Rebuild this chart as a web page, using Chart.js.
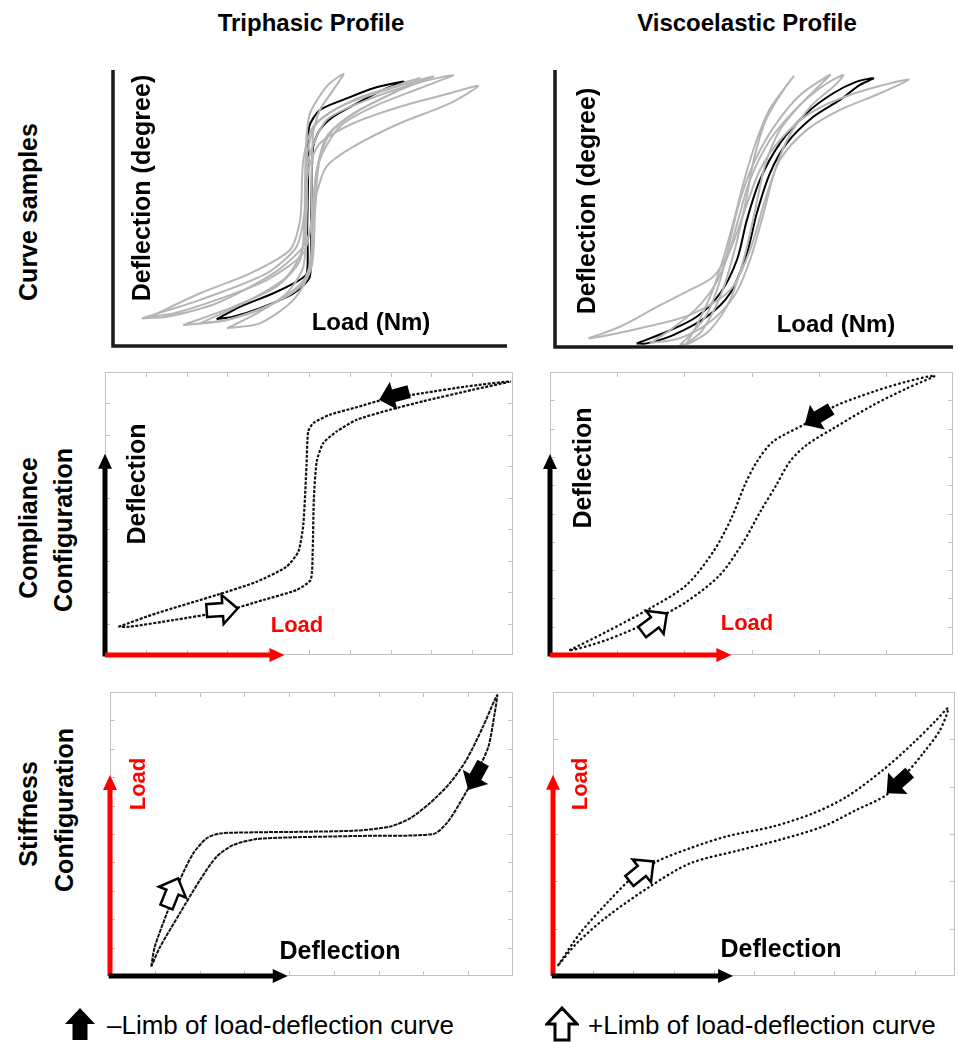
<!DOCTYPE html>
<html>
<head>
<meta charset="utf-8">
<script src="https://cdn.jsdelivr.net/npm/chart.js@4.4.1/dist/chart.umd.min.js"></script>
<style>
  html, body { margin: 0; padding: 0; background: #fff; }
  body { width: 958px; height: 1042px; position: relative; overflow: hidden;
         font-family: "Liberation Sans", Arial, sans-serif; color: #000; }
  .panel { position: absolute; }
  .lbl { position: absolute; white-space: nowrap; font-weight: bold; line-height: 1;
         transform: translate(-50%, -50%); }
  .rot { transform: translate(-50%, -50%) rotate(-90deg); }
  .red { color: #f00; }
  .legend { position: absolute; font-size: 26px; line-height: 1; white-space: nowrap; }
  svg { position: absolute; }
</style>
</head>
<body>

<div class="lbl" style="left:311px;top:23px;font-size:24px">Triphasic Profile</div>
<div class="lbl" style="left:747px;top:23px;font-size:24px">Viscoelastic Profile</div>

<div class="lbl rot" style="left:28px;top:212px;font-size:25px">Curve samples</div>
<div class="lbl rot" style="left:28px;top:528px;font-size:25px">Compliance</div>
<div class="lbl rot" style="left:63px;top:530px;font-size:25px">Configuration</div>
<div class="lbl rot" style="left:28px;top:814px;font-size:25px">Stiffness</div>
<div class="lbl rot" style="left:64px;top:810px;font-size:25px">Configuration</div>

<div class="panel" id="p1"><canvas id="c1"></canvas></div>
<div class="panel" id="p2"><canvas id="c2"></canvas></div>
<div class="panel" id="p3"><canvas id="c3"></canvas></div>
<div class="panel" id="p4"><canvas id="c4"></canvas></div>
<div class="panel" id="p5"><canvas id="c5"></canvas></div>
<div class="panel" id="p6"><canvas id="c6"></canvas></div>

<!-- in-panel axis labels -->
<div class="lbl rot" style="left:141px;top:188px;font-size:25px">Deflection (degree)</div>
<div class="lbl" style="left:371px;top:322px;font-size:24px">Load (Nm)</div>
<div class="lbl rot" style="left:586px;top:201px;font-size:25px">Deflection (degree)</div>
<div class="lbl" style="left:836px;top:324px;font-size:24px">Load (Nm)</div>

<div class="lbl rot" style="left:136px;top:484px;font-size:25px">Deflection</div>
<div class="lbl red" style="left:297px;top:625px;font-size:22px">Load</div>
<div class="lbl rot" style="left:582px;top:468px;font-size:25px">Deflection</div>
<div class="lbl red" style="left:747px;top:623px;font-size:22px">Load</div>

<div class="lbl rot red" style="left:138px;top:784px;font-size:22px">Load</div>
<div class="lbl" style="left:340px;top:950px;font-size:25px">Deflection</div>
<div class="lbl rot red" style="left:580px;top:784px;font-size:22px">Load</div>
<div class="lbl" style="left:781px;top:948px;font-size:25px">Deflection</div>

<!-- legend -->
<svg style="left:65px;top:1008px" width="30" height="33">
  <polygon points="15,0 30,16 22.5,16 22.5,32 7.5,32 7.5,16 0,16" fill="#000"/>
</svg>
<div class="legend" style="left:107px;top:1012px">–Limb of load-deflection curve</div>
<svg style="left:545px;top:1006px" width="34" height="36">
  <polygon points="17,2 32,18 24,18 24,34 10,34 10,18 2,18" fill="#fff" stroke="#000" stroke-width="3" stroke-linejoin="miter"/>
</svg>
<div class="legend" style="left:588px;top:1012px">+Limb of load-deflection curve</div>

<script>
// ---------- data (arbitrary units) ----------

// Triphasic, curve samples (load vs deflection), bold loop
const triBlackLoad = [2.63, 3.22, 4.07, 4.66, 4.92, 4.93, 4.96, 4.98, 5.25, 5.93, 6.61, 7.37, 6.95, 6.27, 5.59, 5.25, 5.08, 5.04, 5.02, 4.98, 4.58, 3.73, 3.05];
const triBlackDefl = [0.97, 1.42, 1.91, 2.33, 2.63, 4.32, 6.74, 7.95, 8.55, 8.97, 9.34, 9.58, 9.34, 8.85, 8.31, 7.83, 7.22, 5.53, 3.12, 2.45, 1.91, 1.37, 1.06];
// grey sample loops
const triGreyALoad = [0.73, 2.21, 3.90, 4.66, 4.87, 4.96, 5.25, 6.10, 7.28, 8.55, 9.27, 8.55, 7.28, 6.10, 5.42, 5.17, 5.08, 4.83, 4.07, 2.63, 1.36];
const triGreyADefl = [1.00, 1.67, 2.63, 3.60, 4.93, 6.38, 7.34, 8.07, 8.67, 9.16, 9.42, 8.79, 8.07, 7.22, 6.50, 5.53, 4.57, 3.60, 2.63, 1.55, 1.06];
const triGreyBLoad = [2.21, 3.48, 4.41, 4.83, 4.87, 4.90, 5.00, 5.42, 5.85, 5.59, 5.25, 5.08, 5.04, 5.02, 4.75, 3.90, 2.89];
const triGreyBDefl = [0.82, 1.67, 2.51, 3.60, 5.53, 7.34, 8.43, 9.40, 9.86, 9.28, 8.55, 7.71, 5.53, 3.12, 2.15, 1.42, 0.94];
const triGreyCLoad = [2.89, 3.65, 4.41, 4.83, 4.92, 4.96, 5.42, 6.44, 7.71, 8.64, 7.79, 6.61, 5.76, 5.25, 5.13, 5.04, 4.58, 3.73];
const triGreyCDefl = [0.64, 1.18, 1.91, 2.87, 4.93, 6.74, 8.19, 8.91, 9.52, 9.82, 9.34, 8.67, 7.95, 6.74, 4.93, 2.87, 1.67, 0.82];
const triGreyDLoad = [0.94, 2.21, 3.48, 4.49, 4.75, 4.83, 5.08, 5.76, 6.95, 8.13, 7.28, 6.27, 5.51, 5.17, 5.04, 4.83, 3.90, 2.63, 1.53];
const triGreyDDefl = [1.06, 1.91, 2.63, 3.48, 4.57, 6.74, 7.95, 8.67, 9.28, 9.76, 9.28, 8.55, 7.71, 6.38, 4.57, 3.36, 2.39, 1.67, 1.18];
const triGreyELoad = [1.78, 3.05, 4.15, 4.75, 4.87, 4.93, 5.17, 6.10, 7.11, 7.79, 7.11, 6.10, 5.42, 5.15, 5.07, 4.96, 4.24, 2.89];
const triGreyEDefl = [0.76, 1.42, 2.15, 3.12, 4.93, 6.98, 8.07, 8.91, 9.40, 9.70, 9.16, 8.43, 7.58, 6.13, 4.32, 2.63, 1.67, 0.94];

// Viscoelastic, curve samples
const viscoBlackLoad = [2.05, 2.81, 3.56, 4.15, 4.57, 4.82, 5.15, 5.65, 6.32, 6.99, 7.58, 8.00, 7.66, 7.16, 6.49, 5.82, 5.40, 5.07, 4.82, 4.40, 3.81, 2.97, 2.30];
const viscoBlackDefl = [0.13, 0.55, 1.09, 1.94, 3.14, 4.58, 6.03, 7.35, 8.44, 9.16, 9.58, 9.70, 9.46, 8.92, 8.31, 7.35, 6.27, 4.83, 3.38, 1.94, 1.09, 0.43, 0.13];
const viscoGreyFLoad = [0.84, 1.63, 2.56, 3.39, 3.98, 4.40, 4.77, 5.15, 5.65, 6.41, 7.41, 8.88, 8.17, 7.16, 6.32, 5.65, 5.28, 4.90, 4.40, 3.39, 2.14, 1.13];
const viscoGreyFDefl = [0.31, 0.73, 1.45, 2.06, 2.54, 3.50, 4.95, 6.39, 7.47, 8.44, 9.10, 9.66, 9.16, 8.56, 7.83, 6.75, 5.31, 3.50, 2.06, 1.16, 0.68, 0.37];
const viscoGreyGLoad = [3.14, 3.39, 3.81, 4.15, 4.40, 4.65, 5.03, 5.53, 6.16, 6.91, 6.66, 6.16, 5.65, 5.28, 5.03, 4.77, 4.40, 3.89, 3.39];
const viscoGreyGDefl = [0.07, 0.43, 1.16, 2.42, 3.86, 5.31, 6.75, 8.01, 9.10, 9.82, 9.46, 8.74, 7.83, 6.57, 4.95, 3.32, 1.70, 0.61, 0.14];
const viscoGreyHLoad = [2.39, 2.89, 3.52, 4.02, 4.35, 4.60, 4.90, 5.40, 6.03, 6.66, 7.24, 7.04, 6.46, 5.90, 5.53, 5.23, 4.90, 4.52, 3.89, 3.14];
const viscoGreyHDefl = [0.14, 0.61, 1.34, 2.24, 3.32, 4.58, 6.03, 7.47, 8.56, 9.35, 9.82, 9.46, 8.74, 7.65, 6.39, 4.77, 3.14, 1.88, 0.90, 0.32];
const viscoGreyJLoad = [3.30, 3.60, 3.95, 4.25, 4.50, 4.75, 5.05, 5.40, 5.99, 5.75, 5.30, 5.00, 4.80, 4.55, 4.20, 3.70];
const viscoGreyJDefl = [0.10, 0.90, 2.00, 3.30, 4.60, 6.00, 7.40, 8.60, 9.76, 9.30, 8.20, 6.80, 5.30, 3.70, 2.00, 0.60];

// Compliance configuration (x = load, y = deflection)
const triCompLoad = [0.33, 1.27, 2.74, 3.72, 4.45, 4.74, 4.86, 4.94, 4.98, 5.11, 5.51, 6.17, 6.82, 7.80, 8.86, 9.93, 9.03, 7.80, 6.99, 6.17, 5.68, 5.35, 5.19, 5.12, 5.09, 5.04, 4.70, 3.88, 2.90, 1.67, 0.61];
const triCompDefl = [0.90, 1.33, 1.91, 2.33, 2.81, 3.29, 4.14, 6.05, 7.11, 7.38, 7.64, 7.88, 8.12, 8.33, 8.54, 8.70, 8.44, 8.07, 7.80, 7.48, 7.11, 6.74, 6.16, 5.00, 3.29, 2.39, 2.07, 1.75, 1.38, 1.11, 0.90];
const viscoCompLoad = [0.30, 0.84, 1.49, 2.03, 2.43, 2.70, 2.90, 3.08, 3.32, 3.77, 4.22, 4.81, 5.31, 5.73, 5.31, 4.81, 4.22, 3.82, 3.57, 3.37, 3.13, 2.88, 2.53, 2.03, 1.49, 0.84, 0.35];
const viscoCompDefl = [0.18, 0.82, 1.65, 2.47, 3.65, 4.83, 6.01, 6.83, 7.54, 8.13, 8.77, 9.30, 9.66, 9.87, 9.42, 8.83, 8.01, 7.42, 6.83, 6.01, 5.06, 4.00, 2.83, 1.88, 1.18, 0.53, 0.18];

// Stiffness configuration (x = deflection, y = load)
const triStiffDefl = [0.92, 1.00, 1.27, 1.56, 1.86, 2.16, 2.46, 3.27, 4.39, 5.51, 6.25, 6.70, 7.14, 7.59, 7.96, 8.33, 8.59, 8.65, 8.59, 8.45, 8.18, 7.81, 7.52, 7.22, 5.51, 4.02, 3.27, 2.75, 2.38, 2.01, 1.56, 1.12];
const triStiffLoad = [0.33, 1.03, 2.21, 3.38, 4.32, 4.85, 5.02, 5.06, 5.08, 5.12, 5.26, 5.55, 6.08, 6.79, 7.61, 8.78, 9.72, 9.89, 9.25, 8.07, 7.14, 6.08, 5.38, 5.00, 4.93, 4.88, 4.82, 4.61, 4.20, 3.38, 2.21, 1.03];
const viscoStiffDefl = [0.13, 0.67, 1.34, 2.00, 2.58, 3.41, 4.32, 5.48, 6.48, 7.31, 8.22, 8.96, 9.54, 9.83, 9.63, 9.21, 8.80, 8.30, 7.55, 6.72, 5.65, 4.65, 3.41, 2.41, 1.34, 0.59, 0.17];
const viscoStiffLoad = [0.23, 0.90, 1.54, 2.10, 2.42, 2.70, 2.95, 3.16, 3.44, 3.79, 4.36, 4.92, 5.41, 5.66, 5.20, 4.71, 4.29, 3.83, 3.51, 3.16, 2.88, 2.66, 2.38, 1.89, 1.25, 0.69, 0.27];

// ---------- helpers ----------
const PAD = 14;
const GREY = '#b5b5b5';

function loop(xs, ys) {
  const pts = xs.map((x, i) => ({ x: x, y: ys[i] }));
  pts.push(pts[0]);
  return pts;
}

function line(data, color, width, dash, tension) {
  return {
    data: data,
    showLine: true,
    borderColor: color,
    borderWidth: width,
    borderDash: dash || [],
    borderCapStyle: dash && dash[0] < 1 ? 'round' : 'butt',
    tension: tension,
    pointRadius: 0,
    fill: false,
    clip: 10
  };
}

function polyArrow(ctx, x0, y0, x1, y1, shaftW, headL, headW) {
  const len = Math.hypot(x1 - x0, y1 - y0);
  const dx = (x1 - x0) / len, dy = (y1 - y0) / len;
  const nx = -dy, ny = dx;
  const bx = x1 - dx * headL, by = y1 - dy * headL;
  ctx.beginPath();
  ctx.moveTo(x0 + nx * shaftW / 2, y0 + ny * shaftW / 2);
  ctx.lineTo(bx + nx * shaftW / 2, by + ny * shaftW / 2);
  ctx.lineTo(bx + nx * headW / 2, by + ny * headW / 2);
  ctx.lineTo(x1, y1);
  ctx.lineTo(bx - nx * headW / 2, by - ny * headW / 2);
  ctx.lineTo(bx - nx * shaftW / 2, by - ny * shaftW / 2);
  ctx.lineTo(x0 - nx * shaftW / 2, y0 - ny * shaftW / 2);
  ctx.closePath();
}

const framePlugin = {
  id: 'frame',
  beforeDatasetsDraw(chart, args, o) {
    const { ctx, chartArea: a } = chart;
    const xs = chart.scales.x, ys = chart.scales.y;
    ctx.save();
    if (o.box) {
      ctx.strokeStyle = '#c2c2c2';
      ctx.lineWidth = 1;
      ctx.strokeRect(a.left + 0.5, a.top + 0.5, a.right - a.left - 1, a.bottom - a.top - 1);
      ctx.beginPath();
      for (let i = 1; i < o.xSteps; i++) {
        const px = Math.round(xs.getPixelForValue(xs.min + i * (xs.max - xs.min) / o.xSteps)) + 0.5;
        ctx.moveTo(px, a.top); ctx.lineTo(px, a.top + 5);
        ctx.moveTo(px, a.bottom); ctx.lineTo(px, a.bottom - 5);
      }
      for (let i = 1; i < o.ySteps; i++) {
        const py = Math.round(ys.getPixelForValue(ys.min + i * (ys.max - ys.min) / o.ySteps)) + 0.5;
        ctx.moveTo(a.left, py); ctx.lineTo(a.left + 5, py);
        ctx.moveTo(a.right, py); ctx.lineTo(a.right - 5, py);
      }
      ctx.stroke();
    }
    ctx.restore();
  },
  afterDraw(chart, args, o) {
    const { ctx, chartArea: a } = chart;
    const xs = chart.scales.x, ys = chart.scales.y;
    ctx.save();
    if (o.axes) {
      ctx.strokeStyle = '#1a1a1a';
      ctx.lineWidth = 3.5;
      ctx.beginPath();
      ctx.moveTo(a.left, a.top);
      ctx.lineTo(a.left, a.bottom);
      ctx.lineTo(a.right, a.bottom);
      ctx.stroke();
    }
    (o.arrows || []).forEach(ar => {
      const x0 = xs.getPixelForValue(ar.from[0]), y0 = ys.getPixelForValue(ar.from[1]);
      const x1 = xs.getPixelForValue(ar.to[0]), y1 = ys.getPixelForValue(ar.to[1]);
      ctx.fillStyle = ar.color;
      polyArrow(ctx, x0, y0, x1, y1, 5, 15, 14);
      ctx.fill();
    });
    (o.limbs || []).forEach(l => {
      const tx = xs.getPixelForValue(l.x), ty = ys.getPixelForValue(l.y);
      const ang = l.angle * Math.PI / 180;
      const L = 31;
      const sx = tx - Math.cos(ang) * L, sy = ty - Math.sin(ang) * L;
      polyArrow(ctx, sx, sy, tx, ty, 13, 15, 29);
      if (l.filled) {
        ctx.fillStyle = '#000';
        ctx.fill();
      } else {
        ctx.fillStyle = '#fff';
        ctx.fill();
        ctx.strokeStyle = '#000';
        ctx.lineWidth = 2.5;
        ctx.lineJoin = 'miter';
        ctx.stroke();
      }
    });
    ctx.restore();
  }
};

function makePanel(n, rect, xMax, yMax, datasets, frame) {
  const wrap = document.getElementById('p' + n);
  const cv = document.getElementById('c' + n);
  const W = rect.w + 2 * PAD, H = rect.h + 2 * PAD;
  wrap.style.left = (rect.x - PAD) + 'px';
  wrap.style.top = (rect.y - PAD) + 'px';
  wrap.style.width = W + 'px';
  wrap.style.height = H + 'px';
  cv.width = W; cv.height = H;
  return new Chart(cv, {
    type: 'scatter',
    data: { datasets: datasets },
    options: {
      responsive: false,
      animation: false,
      devicePixelRatio: 1,
      events: [],
      layout: { padding: PAD },
      plugins: { legend: { display: false }, tooltip: { enabled: false }, frame: frame },
      scales: {
        x: { type: 'linear', min: 0, max: xMax, display: false },
        y: { type: 'linear', min: 0, max: yMax, display: false }
      }
    },
    plugins: [framePlugin]
  });
}

// ---------- panels ----------
makePanel(1, { x: 113, y: 70, w: 394, h: 276 }, 10, 10, [
  line(loop(triGreyALoad, triGreyADefl), GREY, 2, null, 0.25),
  line(loop(triGreyBLoad, triGreyBDefl), GREY, 2, null, 0.25),
  line(loop(triGreyCLoad, triGreyCDefl), GREY, 2, null, 0.25),
  line(loop(triGreyDLoad, triGreyDDefl), GREY, 2, null, 0.25),
  line(loop(triGreyELoad, triGreyEDefl), GREY, 2, null, 0.25),
  line(loop(triBlackLoad, triBlackDefl), '#000', 2, null, 0.25)
], { axes: true });

makePanel(2, { x: 555, y: 70, w: 398, h: 277 }, 10, 10, [
  line(loop(viscoGreyFLoad, viscoGreyFDefl), GREY, 2, null, 0.3),
  line(loop(viscoGreyGLoad, viscoGreyGDefl), GREY, 2, null, 0.3),
  line(loop(viscoGreyHLoad, viscoGreyHDefl), GREY, 2, null, 0.3),
  line(loop(viscoGreyJLoad, viscoGreyJDefl), GREY, 2, null, 0.3),
  line(loop(viscoBlackLoad, viscoBlackDefl), '#000', 2, null, 0.3)
], { axes: true });

makePanel(3, { x: 105, y: 372, w: 408, h: 283 }, 10, 9, [
  line(loop(triCompLoad, triCompDefl), '#111', 2.2, [3, 1.5], 0.2)
], {
  box: true, xSteps: 10, ySteps: 9,
  arrows: [
    { from: [0, -0.05], to: [0, 6.4], color: '#000' },
    { from: [0, 0], to: [4.4, 0], color: '#f00' }
  ],
  limbs: [
    { x: 6.72, y: 8.12, angle: 165, filled: true },
    { x: 3.25, y: 1.48, angle: -4, filled: false }
  ]
});

makePanel(4, { x: 550, y: 372, w: 403, h: 283 }, 6, 10, [
  line(loop(viscoCompLoad, viscoCompDefl), '#111', 2.4, [0.5, 4.2], 0.3)
], {
  box: true, xSteps: 6, ySteps: 10,
  arrows: [
    { from: [0, -0.05], to: [0, 7.1], color: '#000' },
    { from: [0, 0], to: [2.7, 0], color: '#f00' }
  ],
  limbs: [
    { x: 3.79, y: 8.13, angle: 149, filled: true },
    { x: 1.74, y: 1.47, angle: -37, filled: false }
  ]
});

makePanel(5, { x: 110, y: 692, w: 403, h: 284 }, 9, 10, [
  line(loop(triStiffDefl, triStiffLoad), '#111', 2, [4, 1], 0.25)
], {
  box: true, xSteps: 9, ySteps: 10,
  arrows: [
    { from: [0, 0], to: [0, 7.08], color: '#f00' },
    { from: [-0.03, 0], to: [3.97, 0], color: '#000' }
  ],
  limbs: [
    { x: 8.0, y: 6.55, angle: 119, filled: true },
    { x: 1.52, y: 3.44, angle: -68, filled: false }
  ]
});

makePanel(6, { x: 553, y: 692, w: 402, h: 284 }, 10, 6, [
  line(loop(viscoStiffDefl, viscoStiffLoad), '#111', 2.4, [0.5, 4.2], 0.3)
], {
  box: true, xSteps: 10, ySteps: 6,
  arrows: [
    { from: [0, 0], to: [0, 4.25], color: '#f00' },
    { from: [-0.03, 0], to: [4.48, 0], color: '#000' }
  ],
  limbs: [
    { x: 8.30, y: 3.86, angle: 138, filled: true },
    { x: 2.50, y: 2.42, angle: -39, filled: false }
  ]
});
</script>
</body>
</html>
